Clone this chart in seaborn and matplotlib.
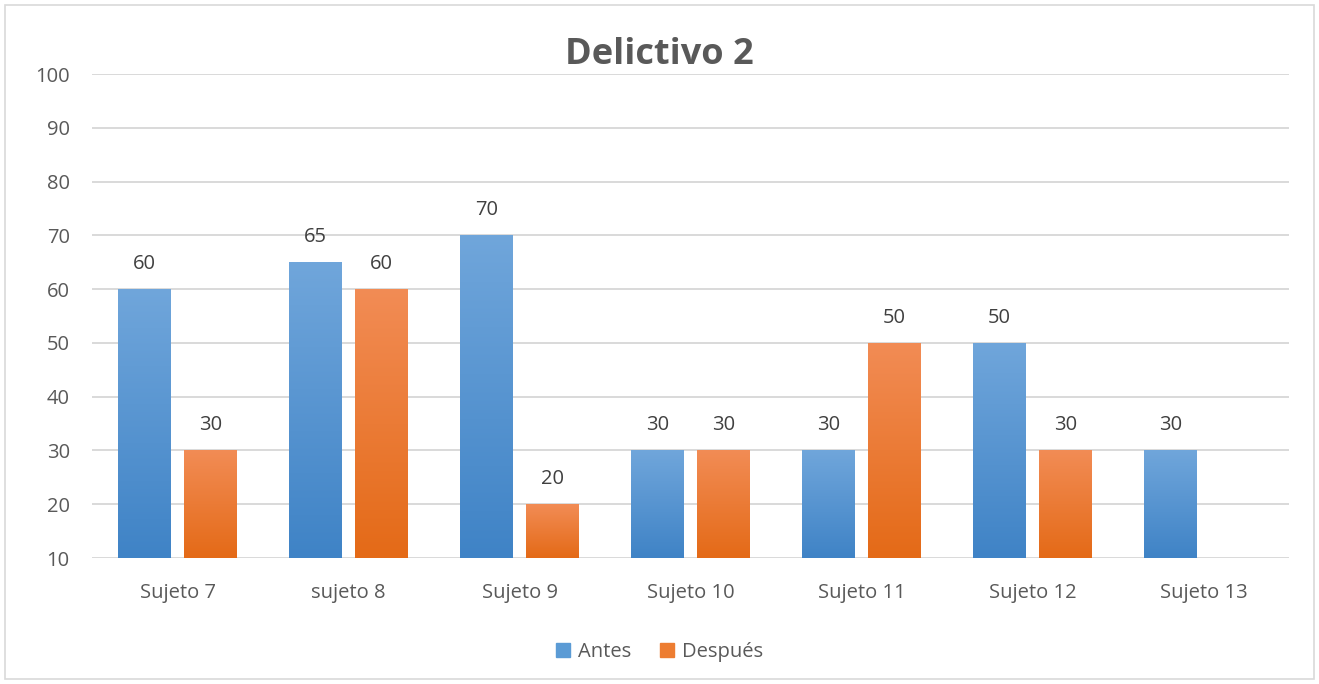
import numpy as np
import pandas as pd
import matplotlib
matplotlib.use("Agg")
import matplotlib.pyplot as plt
import seaborn as sns
from matplotlib.patches import Rectangle
from matplotlib.colors import LinearSegmentedColormap

categories = ["Sujeto 7", "sujeto 8", "Sujeto 9", "Sujeto 10", "Sujeto 11", "Sujeto 12", "Sujeto 13"]
antes = [60, 65, 70, 30, 30, 50, 30]
despues = [30, 60, 20, 30, 50, 30, np.nan]
series_names = ["Antes", "Después"]
y_ticks = [10, 20, 30, 40, 50, 60, 70, 80, 90, 100]
title = "Delictivo 2"

sns.set_theme(style="white")
plt.rcParams["font.family"] = ["Open Sans", "DejaVu Sans"]

df = pd.DataFrame({
    "cat": categories * 2,
    "val": antes + despues,
    "serie": [series_names[0]] * len(categories) + [series_names[1]] * len(categories),
})

colors = {"Antes": "#5B9BD5", "Después": "#ED7D31"}
grads = {
    "Antes": ("#70A6DB", "#3F83C6"),
    "Después": ("#F28C55", "#E46A17"),
}
FS = 14.5

fig = plt.figure(figsize=(13.19, 6.84), dpi=100)
ax = fig.add_axes([92 / 1319, 1 - 558 / 684, (1289 - 92) / 1319, (558 - 74) / 684])

sns.barplot(data=df, x="cat", y="val", hue="serie", palette=colors, width=0.77, gap=0.2,
            ax=ax, legend=False, saturation=1)

ax.set_ylim(10, 100)
ax.set_yticks(y_ticks)
ax.set_xlim(-0.5, len(categories) - 0.5)
ax.grid(axis="y", color="#D9D9D9", linewidth=1.4)
ax.set_axisbelow(True)
for s in ax.spines.values():
    s.set_visible(False)
ax.set_xlabel("")
ax.set_ylabel("")
ax.tick_params(axis="both", length=0, labelsize=FS, labelcolor="#595959")
ax.tick_params(axis="x", pad=18)
ax.tick_params(axis="y", pad=16)

# gradients + labels
for cont, name in zip(ax.containers, series_names):
    cmap = LinearSegmentedColormap.from_list(name, [grads[name][1], grads[name][0]])
    for bar in cont:
        h = bar.get_height()
        if np.isnan(h) or h <= 0:
            continue
        x0 = bar.get_x()
        w = bar.get_width()
        bar.set_facecolor("none")
        bar.set_edgecolor("none")
        grad = np.linspace(0, 1, 256).reshape(-1, 1)
        im = ax.imshow(grad, extent=[x0, x0 + w, 10, h], origin="lower", aspect="auto",
                       cmap=cmap, zorder=2)
        im.set_clip_path(bar)
        ax.text(x0 + w / 2, h + 2.8, f"{int(h)}", ha="center", va="bottom",
                fontsize=FS, color="#404040")
ax.set_xlim(-0.5, len(categories) - 0.5)
ax.set_ylim(10, 100)

fig.text(0.5, 1 - 55 / 684, title, ha="center", va="center", fontsize=26,
         fontweight="bold", color="#595959")

handles = [Rectangle((0, 0), 1, 1, color=colors[n]) for n in series_names]
fig.legend(handles, series_names, loc="center", bbox_to_anchor=(0.5, 1 - 652 / 684),
           ncol=2, frameon=False, fontsize=FS, labelcolor="#595959",
           handlelength=0.7, handleheight=0.7, handletextpad=0.4, columnspacing=1.4)

fig.patches.append(Rectangle((5 / 1319, 5 / 684), 1309 / 1319, 674 / 684, transform=fig.transFigure,
                             fill=False, edgecolor="#D9D9D9", linewidth=1.2))

fig.savefig("out.png", dpi=100, facecolor="white")
